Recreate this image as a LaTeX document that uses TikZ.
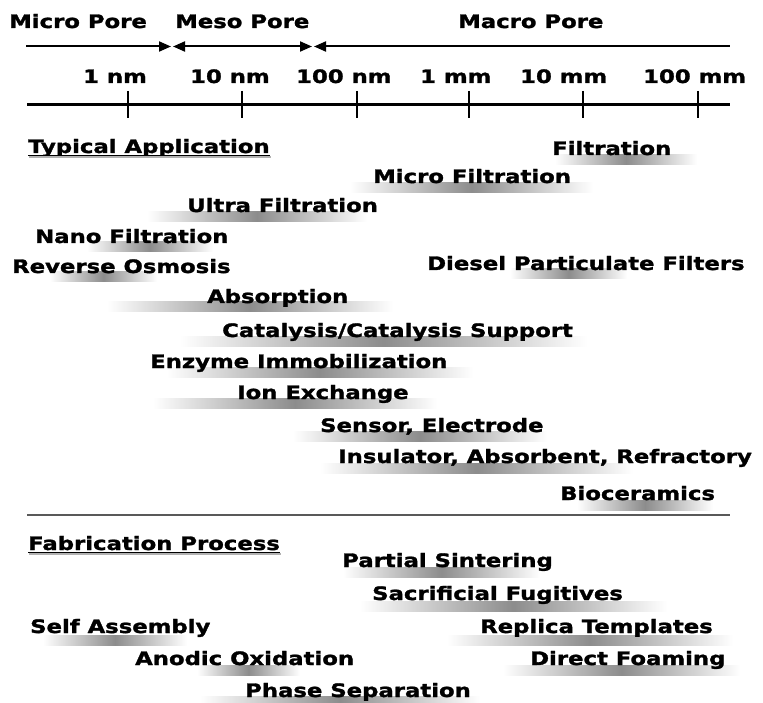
\documentclass[tikz,border=0pt]{standalone}
\usepackage{fontspec}
\usetikzlibrary{arrows.meta,calc}
\newfontfamily\lblfamily[FakeStretch=1.23,FakeBold=1.5]{DejaVu Sans Bold}
\begin{document}
\begin{tikzpicture}[x=1pt,y=-1pt,
  lbl/.style={font=\lblfamily\fontsize{18.5}{20}\selectfont, anchor=base west, inner sep=0pt},
  bar/.style={left color=white, right color=white, middle color=black!45, draw=none},
  axisline/.style={line width=3pt},
  tickline/.style={line width=2.5pt},
  poreline/.style={line width=2pt},
  tip/.style={-{Triangle[length=12pt,width=10pt]}},
  ul/.style={line width=1.6pt, black}]
\useasboundingbox[fill=white] (0,0) rectangle (763,703);

% pore size arrows
\coordinate (mL) at (26,46.5);
\coordinate (m1) at (171,46.5);
\coordinate (m2) at (173,46.5);
\coordinate (m3) at (312,46.5);
\coordinate (m4) at (314,46.5);
\coordinate (mR) at (730,46.5);
\draw[poreline,tip] (mL) -- (m1);
\draw[poreline,{Triangle[length=12pt,width=10pt]}-{Triangle[length=12pt,width=10pt]}] (m2) -- (m3);
\draw[poreline,{Triangle[length=12pt,width=10pt]}-] (m4) -- (mR);

\node[lbl] (micro) at (9,28) {Micro Pore};
\node[lbl] (meso) at (175,28) {Meso Pore};
\node[lbl] (macro) at (458,28) {Macro Pore};

% scale axis
\coordinate (aL) at (27,105);
\coordinate (aR) at (730,105);
\draw[axisline] (aL) -- (aR);
\foreach \x in {128,242,357,469,583,698}
  \draw[tickline] (\x,91) -- (\x,118);
\node[lbl] (t1) at (83,83) {1 nm};
\node[lbl] (t2) at (190,83) {10 nm};
\node[lbl] (t3) at (296,83) {100 nm};
\node[lbl] (t4) at (420,83) {1 mm};
\node[lbl] (t5) at (520,83) {10 mm};
\node[lbl] (t6) at (643,83) {100 mm};

% range bars (applications)
\shade[bar] (555,155) rectangle (697,165);
\shade[bar] (350,183) rectangle (593,193);
\shade[bar] (147,212) rectangle (367,222);
\shade[bar] (87,242) rectangle (213,252);
\shade[bar] (50,272) rectangle (157,282);
\shade[bar] (510,269) rectangle (627,279);
\shade[bar] (107,302) rectangle (393,312);
\shade[bar] (180,336) rectangle (587,346);
\shade[bar] (167,367) rectangle (473,377);
\shade[bar] (153,398) rectangle (437,408);
\shade[bar] (293,431) rectangle (547,441);
\shade[bar] (320,463) rectangle (633,473);
\shade[bar] (577,500) rectangle (713,510);

% range bars (fabrication)
\shade[bar] (343,567) rectangle (540,577);
\shade[bar] (360,601) rectangle (667,611);
\shade[bar] (43,635) rectangle (187,645);
\shade[bar] (447,635) rectangle (733,645);
\shade[bar] (197,665) rectangle (300,675);
\shade[bar] (503,665) rectangle (740,675);
\shade[bar] (200,696) rectangle (480,706);

% application labels
\node[lbl] (typ) at (28,153) {Typical Application};
\draw[black!30,line width=1.5pt] ($(typ.base west)+(1,4)$) -- ($(typ.base east)+(1,4)$);
\draw[ul] ($(typ.base west)+(0,2.5)$) -- ($(typ.base east)+(0,2.5)$);
\node[lbl] (filt) at (552,155) {Filtration};
\node[lbl] (mf) at (373,183) {Micro Filtration};
\node[lbl] (uf) at (187,212) {Ultra Filtration};
\node[lbl] (nf) at (35,243) {Nano Filtration};
\node[lbl] (ro) at (12,273) {Reverse Osmosis};
\node[lbl] (dpf) at (427,270) {Diesel Particulate Filters};
\node[lbl] (abs) at (207,303) {Absorption};
\node[lbl] (cat) at (222,337) {Catalysis/Catalysis Support};
\node[lbl] (enz) at (150,368) {Enzyme Immobilization};
\node[lbl] (ion) at (237,399) {Ion Exchange};
\node[lbl] (sen) at (320,432) {Sensor, Electrode};
\node[lbl] (ins) at (338,463) {Insulator, Absorbent, Refractory};
\node[lbl] (bio) at (560,500) {Bioceramics};

% separator
\coordinate (sL) at (27,515);
\coordinate (sR) at (730,515);
\draw[black!65,line width=2.5pt] (sL) -- (sR);

% fabrication labels
\node[lbl] (fab) at (28,550) {Fabrication Process};
\draw[black!30,line width=1.5pt] ($(fab.base west)+(1,4)$) -- ($(fab.base east)+(1,4)$);
\draw[ul] ($(fab.base west)+(0,2.5)$) -- ($(fab.base east)+(0,2.5)$);
\node[lbl] (ps) at (342,567) {Partial Sintering};
\node[lbl] (sf) at (372,600) {Sacrificial Fugitives};
\node[lbl] (sa) at (30,633) {Self Assembly};
\node[lbl] (rt) at (480,633) {Replica Templates};
\node[lbl] (ao) at (135,665) {Anodic Oxidation};
\node[lbl] (df) at (530,665) {Direct Foaming};
\node[lbl] (phs) at (245,697) {Phase Separation};
\end{tikzpicture}
\end{document}
